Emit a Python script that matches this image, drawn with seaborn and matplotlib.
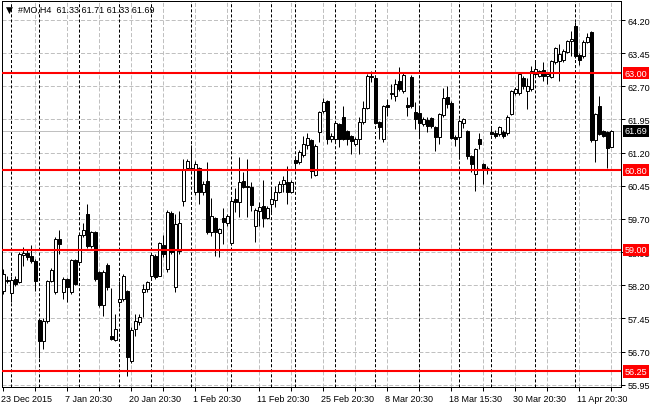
import matplotlib
matplotlib.use("Agg")
import matplotlib.pyplot as plt
import matplotlib.transforms as mtransforms
import numpy as np
import pandas as pd
import seaborn as sns

# ---------------- data ----------------
opens = [58.07, 58.29, 58.02, 58.34, 58.27, 58.88, 58.92, 58.86, 58.75, 57.41,
         56.94, 57.39, 58.30, 58.05, 59.24, 58.05, 58.34, 58.05, 58.77, 58.73,
         59.33, 59.81, 59.08, 59.40, 58.50, 57.75, 58.66, 57.05, 56.96, 57.82,
         57.89, 58.07, 56.49, 57.21, 57.37, 58.05, 58.11, 58.41, 58.86, 58.41,
         59.11, 58.57, 59.83, 58.16, 58.97, 60.11, 60.85, 60.83, 60.31, 60.85,
         60.31, 60.56, 59.40, 59.72, 59.38, 59.72, 59.61, 59.15, 60.15, 60.08,
         60.56, 60.44, 60.42, 59.54, 59.88, 59.99, 59.72, 60.04, 60.13, 60.31,
         60.49, 60.53, 60.31, 61.03, 60.99, 61.15, 61.37, 61.48, 60.69, 61.67,
         62.14, 62.37, 61.51, 61.51, 61.85, 62.01, 61.69, 61.58, 61.39, 61.51,
         61.89, 62.21, 62.93, 62.89, 61.89, 61.51, 62.28, 62.53, 62.48, 62.82,
         62.59, 62.28, 62.91, 62.12, 62.10, 61.85, 61.94, 61.98, 61.78, 61.55,
         62.05, 62.46, 62.32, 61.55, 61.55, 61.87, 61.69, 61.12, 60.72, 61.51,
         60.94, 60.85, 61.67, 61.64, 61.62, 61.67, 61.64, 62.07, 62.55, 62.55,
         62.89, 62.59, 62.64, 62.98, 62.93, 63.07, 62.93, 62.91, 63.25, 63.27,
         63.30, 63.48, 63.72, 64.06, 63.41, 63.39, 63.70, 63.93, 61.48, 62.25,
         61.69, 61.67, 61.33]
highs = [58.57, 58.40, 58.40, 58.40, 58.95, 59.06, 59.00, 59.11, 58.80, 57.43,
         57.45, 58.32, 58.60, 59.30, 59.45, 58.39, 58.36, 58.80, 58.80, 59.36,
         59.61, 60.04, 59.42, 59.42, 58.52, 58.55, 58.70, 58.14, 57.55, 58.30,
         58.45, 58.10, 57.25, 57.55, 57.55, 58.23, 58.30, 58.90, 58.90, 59.17,
         59.33, 59.90, 59.88, 59.81, 59.88, 61.06, 61.05, 61.37, 61.00, 60.87,
         60.55, 60.99, 60.17, 59.75, 59.50, 59.95, 59.80, 60.15, 60.40, 61.10,
         60.76, 61.06, 60.53, 59.95, 60.08, 60.58, 60.00, 60.42, 60.44, 60.55,
         60.67, 60.90, 60.58, 61.12, 61.25, 61.58, 61.64, 61.50, 61.40, 62.15,
         62.44, 62.40, 61.65, 61.90, 61.88, 62.25, 61.72, 61.60, 61.55, 62.01,
         62.37, 62.97, 63.05, 62.92, 61.92, 62.28, 62.41, 62.75, 62.87, 63.14,
         63.00, 62.46, 62.95, 62.34, 62.25, 62.00, 62.00, 62.01, 61.80, 62.10,
         62.66, 62.71, 62.36, 61.60, 61.96, 61.98, 61.72, 61.15, 61.30, 61.64,
         60.96, 60.90, 61.75, 61.71, 61.80, 61.72, 62.05, 62.62, 62.68, 63.00,
         62.93, 62.89, 63.16, 63.27, 63.08, 63.25, 63.00, 63.30, 63.60, 63.66,
         63.55, 63.75, 63.95, 64.15, 63.45, 63.75, 63.91, 63.95, 62.10, 62.48,
         61.72, 61.70, 61.71]
lows = [58.00, 58.26, 57.82, 58.18, 58.25, 58.64, 58.78, 58.70, 58.07, 56.55,
        56.76, 57.35, 58.28, 57.99, 58.90, 57.89, 57.82, 58.00, 58.20, 58.70,
        59.30, 59.05, 59.05, 58.30, 57.70, 57.50, 58.10, 56.95, 56.94, 57.70,
        57.85, 56.15, 56.45, 57.05, 57.30, 57.48, 58.05, 58.36, 58.35, 58.40,
        58.84, 58.50, 58.90, 58.05, 58.90, 59.99, 60.80, 60.78, 60.25, 60.04,
        60.25, 59.36, 59.31, 58.86, 58.84, 59.13, 59.55, 59.10, 59.86, 59.74,
        60.40, 59.74, 59.88, 59.18, 59.54, 59.52, 59.70, 59.86, 59.97, 60.28,
        60.31, 60.04, 60.28, 60.83, 60.95, 61.10, 61.28, 60.63, 60.67, 61.44,
        62.10, 61.39, 61.45, 61.45, 61.33, 61.48, 61.37, 61.17, 61.35, 61.17,
        61.85, 62.18, 62.80, 61.85, 61.51, 61.45, 62.03, 62.41, 62.37, 62.60,
        62.55, 62.03, 62.20, 61.73, 61.58, 61.80, 61.67, 61.76, 61.24, 61.39,
        62.00, 62.20, 61.50, 61.35, 61.06, 61.76, 61.06, 60.76, 60.33, 61.28,
        60.49, 60.72, 61.60, 61.53, 61.58, 61.52, 61.60, 62.05, 62.50, 62.50,
        62.64, 62.19, 62.60, 62.93, 62.90, 62.82, 62.75, 62.88, 63.20, 62.82,
        63.25, 63.45, 63.39, 63.35, 63.18, 63.35, 63.68, 61.45, 60.99, 61.60,
        61.55, 60.85, 61.33]
closes = [58.45, 58.31, 58.32, 58.23, 58.90, 58.92, 58.84, 58.75, 58.30, 56.94,
          57.39, 58.30, 58.54, 59.24, 59.13, 58.34, 58.16, 58.77, 58.23, 59.33,
          59.45, 59.08, 59.40, 58.34, 57.75, 58.50, 58.16, 56.98, 57.21, 57.89,
          58.41, 56.58, 57.19, 57.39, 57.48, 58.11, 58.27, 58.88, 58.39, 59.15,
          58.90, 59.86, 58.95, 59.58, 59.61, 60.83, 61.01, 60.85, 60.94, 60.31,
          60.49, 59.40, 59.77, 59.40, 59.47, 59.63, 59.77, 60.11, 60.08, 60.53,
          60.42, 60.42, 60.01, 59.90, 59.97, 59.72, 59.95, 60.15, 60.31, 60.49,
          60.58, 60.31, 60.53, 60.96, 61.21, 61.39, 61.53, 60.78, 61.35, 62.12,
          62.34, 61.51, 61.58, 61.87, 61.51, 61.51, 61.51, 61.46, 61.51, 61.89,
          62.21, 62.93, 62.91, 61.87, 61.78, 62.25, 62.23, 62.54, 62.75, 62.64,
          62.96, 62.23, 62.25, 61.96, 61.87, 61.96, 61.80, 61.80, 61.55, 62.07,
          62.44, 62.30, 61.53, 61.51, 61.91, 61.96, 61.12, 60.94, 61.28, 61.39,
          60.83, 60.86, 61.62, 61.58, 61.78, 61.58, 62.01, 62.59, 62.64, 62.98,
          62.71, 62.71, 63.05, 63.09, 63.05, 62.93, 62.98, 63.27, 63.57, 63.43,
          63.50, 63.72, 63.77, 63.39, 63.30, 63.70, 63.82, 61.48, 62.07, 61.62,
          61.58, 61.30, 61.69]

levels = [63.00, 60.80, 59.00, 56.25]
price_ticks = [64.20, 63.45, 62.70, 61.95, 61.20, 60.45, 59.70, 58.95, 58.20,
               57.45, 56.70, 55.95]
current_price = 61.69
week_starts = [2, 9, 19, 29, 37, 47, 57, 67, 73, 83, 93, 104, 114, 122, 133, 143]
date_labels = ["23 Dec 2015", "7 Jan 20:30", "20 Jan 20:30", "1 Feb 20:30",
               "11 Feb 20:30", "25 Feb 20:30", "8 Mar 20:30", "18 Mar 15:30",
               "30 Mar 20:30", "11 Apr 20:30"]
header = "#MO,H4  61.33 61.71 61.33 61.69"

# ---------------- figure ----------------
sns.set_theme(style="white")
plt.rcParams["font.family"] = ["Liberation Sans", "DejaVu Sans"]
plt.rcParams["lines.scale_dashes"] = False

df = pd.DataFrame({"open": opens, "high": highs, "low": lows, "close": closes})
df["bar"] = np.arange(len(df))
df["up"] = df["close"] >= df["open"]
df["bottom"] = df[["open", "close"]].min(axis=1)
df["height"] = (df["close"] - df["open"]).abs().clip(lower=0.004)

W, H = 660, 410
fig = plt.figure(figsize=(W / 100, H / 100), dpi=100)
fig.patch.set_facecolor("white")
ax = fig.add_axes([2 / W, 22 / H, 619 / W, 386 / H])
ax.set_facecolor("white")

px = 0.72  # one pixel in points
gray = "#C0C0C0"

# grid
for p in price_ticks:
    ax.axhline(p, color=gray, lw=px, linestyle=(0, (2.9, 1.45)), zorder=1)
grid_bars = list(range(8, len(df) + 1, 8))
for b in grid_bars:
    ax.axvline(b, color=gray, lw=px, linestyle=(0, (2.9, 1.45)), zorder=1)
for b in week_starts:
    ax.axvline(b, color="black", lw=px, linestyle=(0, (2.2, 1.45)), zorder=1.2)

# bid line
ax.axhline(current_price, color=gray, lw=px, zorder=1.5)

# candles
ax.vlines(df["bar"], df["low"], df["high"], color="black", lw=px, zorder=2)
colors = np.where(df["up"], "white", "black")
ax.bar(df["bar"], df["height"], bottom=df["bottom"], width=0.55,
       color=colors, edgecolor="black", linewidth=px, zorder=3)

# support / resistance levels
for lv in levels:
    ax.axhline(lv, color="#FF0000", lw=1.5, zorder=4)

ax.set_xlim(-0.375, 154.4)
ax.set_ylim(55.897, 64.63)

# axes styling
for s in ax.spines.values():
    s.set_color("black")
    s.set_linewidth(px)
ax.yaxis.tick_right()
ax.set_yticks(price_ticks)
ax.set_yticklabels([f"{p:.2f}" for p in price_ticks])
ax.tick_params(axis="y", right=True, left=False, direction="out", length=3,
               width=px, pad=2, labelsize=6.5, colors="black")

xt = list(range(0, len(df) + 1, 8))
ax.set_xticks(xt)
labs = []
k = 0
for b in xt:
    if b % 16 == 0 and k < len(date_labels):
        labs.append(date_labels[k]); k += 1
    else:
        labs.append("")
ax.set_xticklabels(labs)
ax.tick_params(axis="x", bottom=True, direction="out", length=3, width=px,
               pad=2, labelsize=6.5, colors="black")
off = mtransforms.ScaledTranslation(-2.5 / 100, 0, fig.dpi_scale_trans)
for lab in ax.get_xticklabels():
    lab.set_horizontalalignment("left")
    lab.set_transform(lab.get_transform() + off)

# right-side level boxes
trans = mtransforms.blended_transform_factory(ax.transAxes, ax.transData)
for lv in levels:
    ax.text(1.006, lv, f"{lv:.2f}", transform=trans, ha="left", va="center",
            fontsize=6.5, color="white", clip_on=False, zorder=6,
            bbox=dict(facecolor="#FF0000", edgecolor="none", pad=1.2))
ax.text(1.006, current_price, f"{current_price:.2f}", transform=trans, ha="left",
        va="center", fontsize=6.5, color="white", clip_on=False, zorder=6,
        bbox=dict(facecolor="black", edgecolor="none", pad=1.2))

# header
fig.text(6 / W, 1 - 10 / H, "▼", fontsize=6.5, color="black", va="center",
         ha="left", family=["DejaVu Sans"])
fig.text(18 / W, 1 - 10 / H, header, fontsize=6.5, color="black",
         va="center", ha="left")

fig.savefig("out.png", dpi=100, facecolor="white")
